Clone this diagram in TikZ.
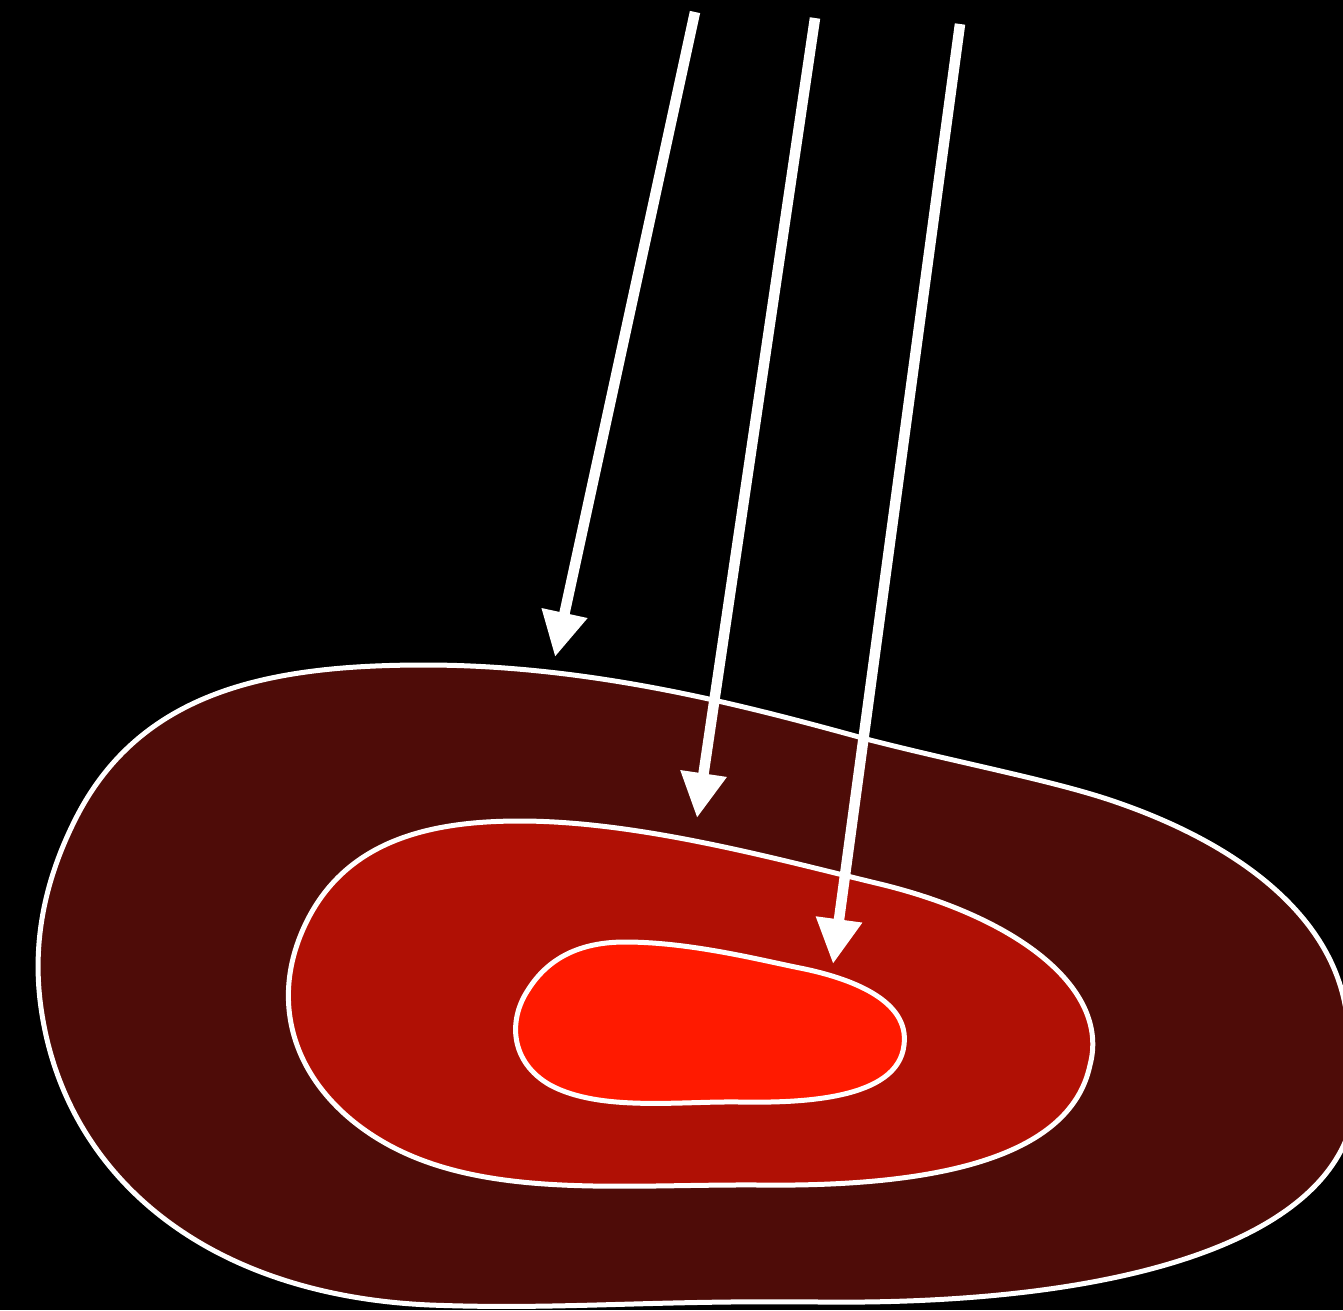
\documentclass[tikz,border=0pt]{standalone}
\usetikzlibrary{arrows.meta}
\definecolor{outerc}{HTML}{4E0C08}
\definecolor{midc}{HTML}{B01005}
\definecolor{innerc}{HTML}{FF1A00}
\begin{document}
\begin{tikzpicture}[x=1pt,y=-1pt,
  blob/.style={draw=white,line width=5pt},
  ray/.style={draw=white,line width=10.5pt,-{Triangle[length=45pt,width=44pt]}}]
\fill[black] (0,0) rectangle (1343,1310);
\useasboundingbox (0,0) rectangle (1343,1310);
\clip (0,0) rectangle (1343,1310);
\draw[blob,fill=outerc] (425,665) .. controls (600,665) and (760,710) .. (870,740)
 .. controls (960,763) and (1050,780) .. (1110,800)
 .. controls (1230,840) and (1330,910) .. (1346,1010)
 -- (1346,1140)
 .. controls (1300,1250) and (1100,1305) .. (820,1302)
 .. controls (650,1300) and (560,1310) .. (430,1305)
 .. controls (200,1295) and (60,1170) .. (40,1000)
 .. controls (32,930) and (50,870) .. (75,820)
 .. controls (140,690) and (270,665) .. (425,665) -- cycle;
\draw[blob,fill=midc] (520,821) .. controls (640,821) and (780,860) .. (880,884)
 .. controls (1020,918) and (1110,990) .. (1090,1065)
 .. controls (1070,1160) and (930,1187) .. (760,1185)
 .. controls (620,1184) and (480,1200) .. (380,1140)
 .. controls (300,1092) and (265,1010) .. (305,925)
 .. controls (345,840) and (430,821) .. (520,821) -- cycle;
\draw[blob,fill=innerc] (625,942) .. controls (690,942) and (760,960) .. (800,968)
 .. controls (850,978) and (910,1000) .. (904,1045)
 .. controls (898,1100) and (800,1103) .. (740,1102)
 .. controls (680,1101) and (600,1112) .. (550,1085)
 .. controls (510,1062) and (508,1020) .. (528,990)
 .. controls (548,958) and (580,942) .. (625,942) -- cycle;
\coordinate (s1) at (695,12);  \coordinate (e1) at (555,657);
\coordinate (s2) at (815,18);  \coordinate (e2) at (697,818);
\coordinate (s3) at (960,24);  \coordinate (e3) at (833,964);
\draw[ray] (s1) -- (e1);
\draw[ray] (s2) -- (e2);
\draw[ray] (s3) -- (e3);
\end{tikzpicture}
\end{document}
